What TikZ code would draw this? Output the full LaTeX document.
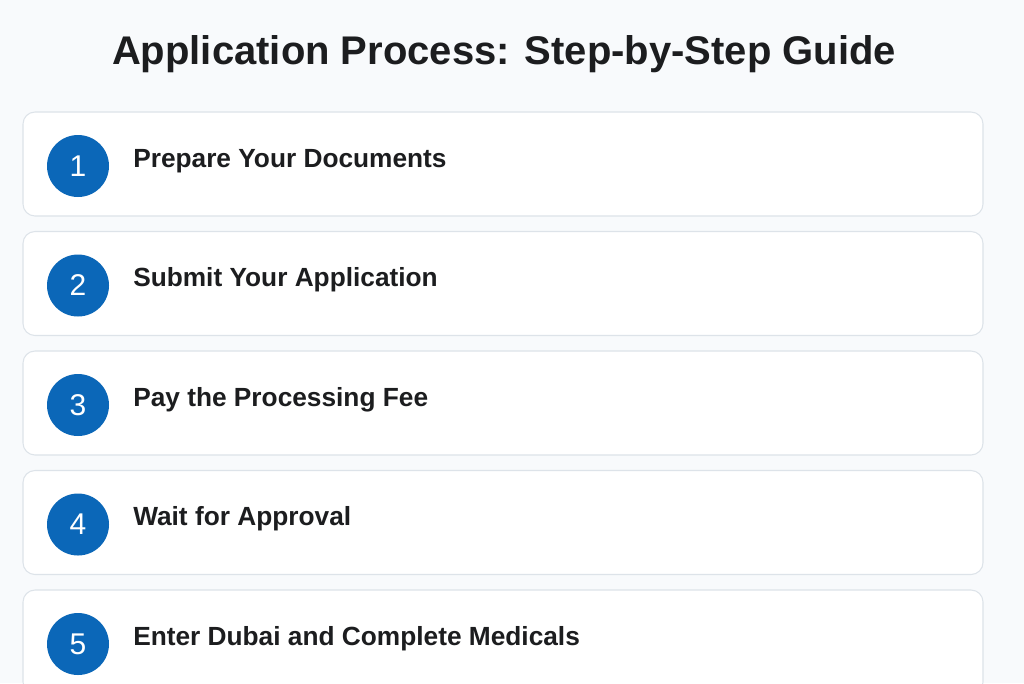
\documentclass[tikz,border=0pt]{standalone}
\usepackage{fontspec}
\setmainfont{Liberation Sans}
\usepackage{tikz}
\usetikzlibrary{positioning}
\definecolor{pagebg}{HTML}{F8FAFC}
\definecolor{cardline}{HTML}{DDE3E9}
\definecolor{stepblue}{HTML}{0B67B8}
\definecolor{inkdark}{HTML}{1C1D1F}
\tikzset{
  card/.style={draw=cardline,line width=0.8pt,fill=white,rounded corners=9pt},
  stepnum/.style={circle,fill=stepblue,minimum size=46.5pt,inner sep=0pt,text=white,font=\fontsize{22.5}{23}\selectfont},
  steptext/.style={anchor=base west,inner sep=0pt,text=inkdark,font=\bfseries\fontsize{19.7}{20}\selectfont}
}
\begin{document}
\begin{tikzpicture}[x=0.75pt,y=-0.75pt]
      \fill[pagebg] (0,0) rectangle (1024,683);
      \useasboundingbox (0,0) rectangle (1024,683);
      \node[text=inkdark,font=\bfseries\fontsize{30}{31}\selectfont] (title) at (504,54) {Application Process: Step-by-Step Guide};
      \foreach \i/\lbl in {1/Prepare Your Documents,2/Submit Your Application,3/Pay the Processing Fee,4/Wait for Approval,5/Enter Dubai and Complete Medicals}{
        \pgfmathsetmacro{\top}{112+119.5*(\i-1)}
        \draw[card] (23,\top) rectangle (983,\top+104) coordinate (card\i);
        \node[stepnum] (num\i) at (78,\top+54) {\i};
        \node[steptext] (lbl\i) at (133,\top+55) {\lbl};
      }
\end{tikzpicture}
\end{document}
